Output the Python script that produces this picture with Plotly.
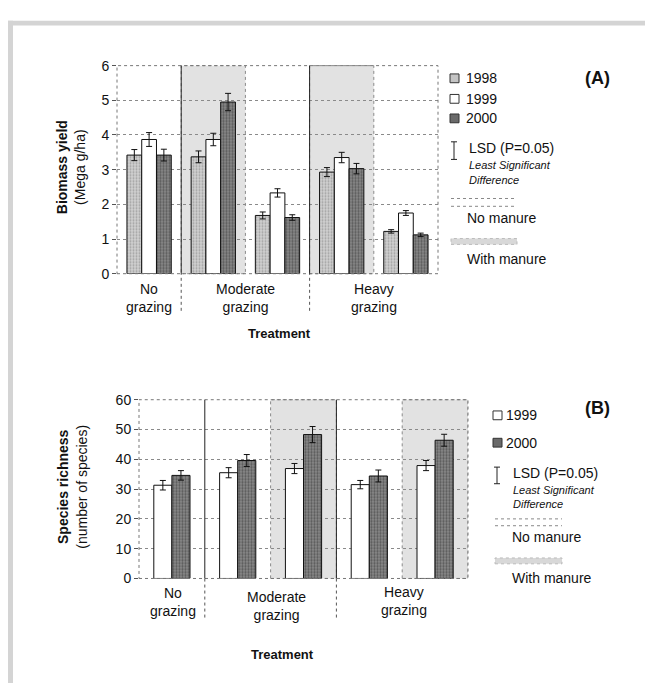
import plotly.graph_objects as go

W, H = 645, 691

def X(px):
    return px / W

def Y(py):
    return 1 - py / H

# ---------------- DATA ----------------
slots = ["No grazing", "Moderate + manure", "Moderate", "Heavy + manure", "Heavy"]
slots_b = ["No grazing", "Moderate", "Moderate + manure", "Heavy", "Heavy + manure"]

a_1998 = [3.42, 3.37, 1.68, 2.93, 1.22]
a_1998_err = [0.16, 0.17, 0.10, 0.13, 0.05]
a_1999 = [3.87, 3.87, 2.33, 3.35, 1.75]
a_1999_err = [0.20, 0.18, 0.12, 0.15, 0.07]
a_2000 = [3.42, 4.95, 1.62, 3.03, 1.12]
a_2000_err = [0.17, 0.25, 0.08, 0.15, 0.05]

b_1999 = [31.3, 35.5, 36.9, 31.5, 37.9]
b_1999_err = [1.6, 1.7, 1.7, 1.4, 1.7]
b_2000 = [34.6, 39.6, 48.3, 34.4, 46.4]
b_2000_err = [1.6, 2.0, 2.7, 2.0, 2.0]

group_labels = ["No<br>grazing", "Moderate<br>grazing", "Heavy<br>grazing"]
years_a = ["1998", "1999", "2000"]
years_b = ["1999", "2000"]

# ---------------- STYLE ----------------
FONT = "Liberation Sans, Arial, sans-serif"
C98 = dict(color="#d0d0d0", line=dict(color="#111", width=1),
           pattern=dict(shape=".", fgcolor="#707070", bgcolor="#d0d0d0", size=3, solidity=0.35))
C99 = dict(color="white", line=dict(color="#111", width=1))
C00 = dict(color="#7a7a7a", line=dict(color="#111", width=1),
           pattern=dict(shape=".", fgcolor="#2a2a2a", bgcolor="#8a8a8a", size=3, solidity=0.45))
ERR = dict(type="data", visible=True, color="#111", thickness=1, width=3)

fig = go.Figure()

# Panel A bars
wa = 0.23
for vals, errs, mk, off, name in [
    (a_1998, a_1998_err, C98, -1.5 * wa, years_a[0]),
    (a_1999, a_1999_err, C99, -0.5 * wa, years_a[1]),
    (a_2000, a_2000_err, C00, 0.5 * wa, years_a[2]),
]:
    fig.add_trace(go.Bar(x=slots, y=vals, width=wa, offset=off, marker=mk,
                         error_y=dict(array=errs, **ERR), name=name,
                         showlegend=False, xaxis="x", yaxis="y"))

# Panel B bars
wb = 0.275
for vals, errs, mk, off, name in [
    (b_1999, b_1999_err, C99, -wb, years_b[0]),
    (b_2000, b_2000_err, C00, 0.0, years_b[1]),
]:
    fig.add_trace(go.Bar(x=slots_b, y=vals, width=wb, offset=off, marker=mk,
                         error_y=dict(array=errs, **ERR), name=name,
                         showlegend=False, xaxis="x2", yaxis="y2"))

shapes = []
annotations = []

# outer gray frame (top and left)
shapes.append(dict(type="rect", xref="paper", yref="paper", x0=X(8), x1=1.0,
                   y0=Y(18), y1=Y(13), fillcolor="#d4d4d4", line=dict(width=0), layer="below"))
shapes.append(dict(type="rect", xref="paper", yref="paper", x0=X(8), x1=X(13),
                   y0=0.0, y1=Y(13), fillcolor="#d4d4d4", line=dict(width=0), layer="below"))

def panel_decor(xr, yr, shaded, bottom_px, div_bottom_px):
    for s in shaded:
        shapes.append(dict(type="rect", xref=xr, yref=yr + " domain", x0=s - 0.5, x1=s + 0.5,
                           y0=0, y1=1, fillcolor="#e2e2e2", layer="below",
                           line=dict(color="#8a8a8a", width=1, dash="dot")))
    shapes.append(dict(type="rect", xref=xr + " domain", yref=yr + " domain", x0=0, x1=1,
                       y0=0, y1=1, line=dict(color="#777", width=1, dash="dot"), layer="above"))
    for d in (0.5, 2.5):
        shapes.append(dict(type="line", xref=xr, yref="paper", x0=d, x1=d,
                           y0=Y(div_bottom_px), y1=Y(bottom_px),
                           line=dict(color="#555", width=1, dash="dot"), layer="above"))
        shapes.append(dict(type="line", xref=xr, yref=yr + " domain", x0=d, x1=d,
                           y0=0, y1=1, line=dict(color="#222", width=1), layer="above"))

panel_decor("x", "y", [1, 3], 272, 310)
panel_decor("x2", "y2", [2, 4], 584, 624)

def txt(x, y, text, size=14, xanchor="left", bold=False, italic=False, angle=0, yanchor="middle"):
    t = text
    if bold:
        t = "<b>" + t + "</b>"
    if italic:
        t = "<i>" + t + "</i>"
    annotations.append(dict(xref="paper", yref="paper", x=X(x), y=Y(y), text=t,
                            showarrow=False, xanchor=xanchor, yanchor=yanchor,
                            textangle=angle, font=dict(family=FONT, size=size, color="#111")))

# Panel A texts
txt(71, 163, "<b>Biomass yield</b><br>(Mega g/ha)", size=14, xanchor="center", angle=-90)
for lab, cx in zip(group_labels, [149, 245, 374]):
    txt(cx, 297, lab, xanchor="center")
txt(279, 333, "Treatment", bold=True, xanchor="center", size=13)
txt(597, 72, "(A)", bold=True, xanchor="center", size=18)

# Panel B texts
txt(72, 490, "<b>Species richness</b><br>(number of species)", size=14, xanchor="center", angle=-90)
for lab, cx, cy in zip(group_labels, [173, 276, 404], [608, 612, 607]):
    txt(cx, cy, lab, xanchor="center")
txt(282, 662, "Treatment", bold=True, xanchor="center", size=13)
txt(597, 409, "(B)", bold=True, xanchor="center", size=18)

def swatch(x, y, fill):
    shapes.append(dict(type="rect", xref="paper", yref="paper", x0=X(x), x1=X(x + 9),
                       y0=Y(y + 4.5), y1=Y(y - 4.5), fillcolor=fill,
                       line=dict(color="#333", width=1)))

def lsd_icon(x, y0, y1):
    shapes.append(dict(type="line", xref="paper", yref="paper", x0=X(x), x1=X(x),
                       y0=Y(y0), y1=Y(y1), line=dict(color="#222", width=1)))
    for yy in (y0, y1):
        shapes.append(dict(type="line", xref="paper", yref="paper", x0=X(x - 3), x1=X(x + 3),
                           y0=Y(yy), y1=Y(yy), line=dict(color="#222", width=1)))

def dotted_key(x0, x1, ys):
    for yy in ys:
        shapes.append(dict(type="line", xref="paper", yref="paper", x0=X(x0), x1=X(x1),
                           y0=Y(yy), y1=Y(yy), line=dict(color="#888", width=1, dash="dot")))

def manure_key(x0, x1, y):
    shapes.append(dict(type="rect", xref="paper", yref="paper", x0=X(x0), x1=X(x1),
                       y0=Y(y + 3), y1=Y(y - 3), fillcolor="#d8d8d8",
                       line=dict(color="#bbb", width=1, dash="dot")))

# Legend A
swatch(450, 72, "#c4c4c4"); txt(464, 72, years_a[0])
swatch(450, 93, "white"); txt(464, 93, years_a[1])
swatch(450, 113, "#6a6a6a"); txt(464, 113, years_a[2])
lsd_icon(454, 137, 155); txt(467, 143, "LSD (P=0.05)")
txt(467, 161, "Least Significant", size=11, italic=True)
txt(467, 176, "Difference", size=11, italic=True)
dotted_key(451, 517, [195, 203]); txt(465, 215, "No manure")
manure_key(451, 517, 239); txt(465, 257, "With manure")

# Legend B
swatch(493, 417, "white"); txt(504, 417, years_b[0])
swatch(493, 445, "#6a6a6a"); txt(504, 445, years_b[1])
lsd_icon(497, 470, 487); txt(511, 476, "LSD (P=0.05)")
txt(511, 493, "Least Significant", size=11, italic=True)
txt(511, 508, "Difference", size=11, italic=True)
dotted_key(495, 562, [523, 530]); txt(510, 542, "No manure")
manure_key(495, 562, 566); txt(510, 584, "With manure")

yaxis_common = dict(showgrid=True, griddash="dot", gridcolor="#8a8a8a", gridwidth=1,
                    zeroline=False, ticks="outside", ticklen=4, tickcolor="#555",
                    showline=False, tickfont=dict(family=FONT, size=14, color="#111"))
xaxis_common = dict(showgrid=False, showticklabels=False, ticks="", zeroline=False,
                    showline=False, range=[-0.5, 4.5], type="category")

fig.update_layout(
    width=W, height=H, margin=dict(l=0, r=0, t=0, b=0),
    paper_bgcolor="white", plot_bgcolor="rgba(0,0,0,0)",
    barmode="overlay", showlegend=False, hovermode=False,
    font=dict(family=FONT, size=14, color="#111"),
    xaxis=dict(domain=[X(117), X(438)], anchor="y", **xaxis_common),
    yaxis=dict(domain=[Y(272), Y(59)], anchor="x", range=[0, 6], dtick=1, **yaxis_common),
    xaxis2=dict(domain=[X(139), X(468)], anchor="y2", **xaxis_common),
    yaxis2=dict(domain=[Y(584), Y(401)], anchor="x2", range=[0, 60], dtick=10, **yaxis_common),
    shapes=shapes, annotations=annotations,
)

fig.write_html("out.html", config={"displayModeBar": False},
               post_script="document.body.style.margin='0';document.body.style.overflow='hidden';")
